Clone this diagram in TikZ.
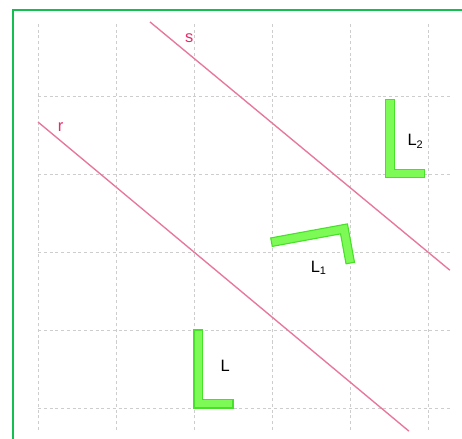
\documentclass[tikz,border=0pt]{standalone}
\usepackage{fontspec}
\setmainfont{Liberation Sans}
\usetikzlibrary{positioning}

\definecolor{framegreen}{RGB}{20,190,80}
\definecolor{gridgray}{RGB}{205,205,205}
\definecolor{linepink}{RGB}{232,120,155}
\definecolor{labelpink}{RGB}{225,45,105}
\definecolor{Lfill}{RGB}{125,250,85}
\definecolor{Ldraw}{RGB}{70,225,40}

\begin{document}
\begin{tikzpicture}[x=2cm, y=2cm]

% Define styles
\tikzstyle{frame} = [draw=framegreen, line width=1.4pt]
\tikzstyle{gridline} = [draw=gridgray, line width=0.7pt, dash pattern=on 2.2pt off 2pt]
\tikzstyle{mirror} = [draw=linepink, line width=1pt]
\tikzstyle{linelabel} = [text=labelpink, font=\large]
\tikzstyle{piece} = [draw=Ldraw, fill=Lfill, line width=0.8pt, line join=miter]
\tikzstyle{piecelabel} = [font=\large]
\tikzset{Lpiece/.pic={
  \path[piece] (0,0) -- (0.5,0) -- (0.5,0.11) -- (0.11,0.11) -- (0.11,1) -- (0,1) -- cycle;
}}

\useasboundingbox (-0.487,-0.385) rectangle (5.436,5.231);

% Frame
\coordinate (fbl) at (-0.321,-0.5);
\coordinate (ftr) at (5.6,5.103);
\draw[frame] (fbl) |- (ftr);

% Grid
\foreach \x in {0,...,5}
  \draw[gridline] (\x,-0.28) -- (\x,4.95);
\foreach \y in {0,...,4}
  \draw[gridline] (0,\y) -- (5.28,\y);

% Lines r and s
\coordinate (rstart) at (0,3.667);
\coordinate (rend) at (4.756,-0.297);
\coordinate (sstart) at (1.436,4.95);
\coordinate (send) at (5.28,1.767);
\draw[mirror] (rstart) -- (rend);
\draw[mirror] (sstart) -- (send);
\node[linelabel] (rlabel) at (0.29,3.6) {r};
\node[linelabel] (slabel) at (1.94,4.74) {s};

% Pieces: L, its image in r, then in s
\pic (Lorig) at (2,0) {Lpiece};
\begin{scope}[cm={0.18033,-0.98361,-0.98361,-0.18033,(3.6066,4.3279)}]
  \pic[transform shape] (Lone) at (2,0) {Lpiece};
\end{scope}
\pic (Ltwo) at (4.459,2.951) {Lpiece};

% Labels
\node[piecelabel] (Llabel) at (2.4,0.54) {L};
\node[piecelabel] (Lonelabel) at (3.6,1.8) {L\textsubscript{1}};
\node[piecelabel] (Ltwolabel) at (4.84,3.42) {L\textsubscript{2}};

\end{tikzpicture}
\end{document}
